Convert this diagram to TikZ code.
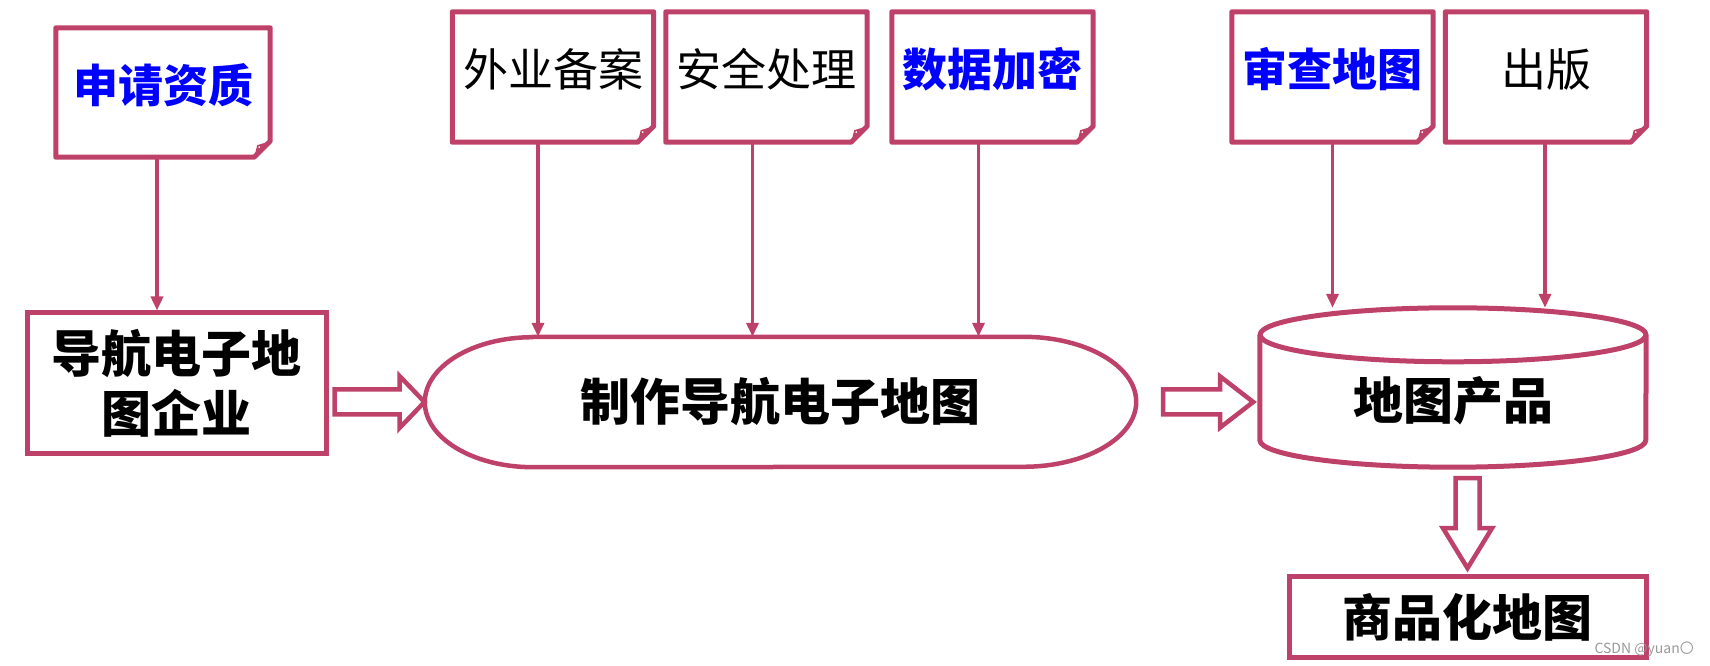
\documentclass[tikz,border=0pt]{standalone}
\usepackage{fontspec}
\newfontfamily\zh{Noto Sans CJK SC}
\usetikzlibrary{arrows.meta,calc}
\definecolor{rose}{RGB}{190,65,106}
\definecolor{zhblue}{RGB}{0,0,255}

\tikzset{
  docbox/.style={minimum width=201pt, minimum height=130pt, inner sep=0pt,
    font=\zh\fontsize{45}{54}\selectfont, text height=27pt, text depth=7pt},
  bluetxt/.style={text=zhblue, font=\zh\bfseries\fontsize{45}{54}\selectfont},
  border/.style={draw=rose, line width=5pt, line join=round},
  conn/.style={draw=rose, line width=3.5pt, ->},
  fat/.style={draw=rose, line width=4.5pt, fill=white, line join=miter},
  bigtxt/.style={font=\zh\bfseries\fontsize{50}{60}\selectfont, inner sep=0pt},
  plainbox/.style={bigtxt, draw=rose, line width=5pt},
  wm/.style={font=\zh\fontsize{14}{16}\selectfont, text=black!40, inner sep=0pt}
}

\begin{document}
\begin{tikzpicture}[x=1pt, y=1pt, >={Triangle[length=14pt,width=12pt]}]
  \useasboundingbox (0,0) rectangle (1710,666);
  % documents
  \node[docbox, minimum width=214pt, minimum height=129pt, bluetxt] (sqzz) at (163,573.5) {申请资质};
  \node[docbox] (wyba) at (553,589) {外业备案};
  \node[docbox] (aqcl) at (766.5,589) {安全处理};
  \node[docbox, bluetxt] (sjjm) at (992.5,589) {数据加密};
  \node[docbox, bluetxt] (scdt) at (1332.5,589) {审查地图};
  \node[docbox] (cb) at (1546,589) {出版};
  \foreach \n in {sqzz,wyba,aqcl,sjjm,scdt,cb} {
    \draw[border] (\n.north west) -- (\n.north east) -- ([yshift=16pt]\n.south east)
      -- ([xshift=-16pt]\n.south east) -- (\n.south west) -- cycle;
    \fill[rose] ([yshift=16pt]\n.south east) -- ([xshift=-13pt,yshift=12pt]\n.south east)
      -- ([xshift=-16pt]\n.south east) -- cycle;
    \fill[white] ([xshift=-11pt,yshift=10pt]\n.south east) circle (1pt);
  }

  % boxes
  \node[plainbox, minimum width=299pt, minimum height=141pt, align=center] (qiye) at (176.5,282.5) {导航电子地\\图企业};
  \node[bigtxt, minimum width=711pt, minimum height=130pt] (zz) at (780.5,264) {制作导航电子地图};
  \draw[border, line width=4.5pt] ([xshift=108pt]zz.north west) -- ([xshift=-113pt]zz.north east)
    arc[start angle=90, end angle=-90, x radius=113, y radius=65] -- ([xshift=108pt]zz.south west)
    arc[start angle=270, end angle=90, x radius=108, y radius=65] -- cycle;

  % cylinder
  \node[minimum width=386pt, minimum height=159pt, inner sep=0pt] (cyl) at (1453,278.5) {};
  \draw[border] ([yshift=-27pt]cyl.north west) -- ([yshift=27pt]cyl.south west)
    arc[start angle=180, end angle=360, x radius=193, y radius=27] -- ([yshift=-27pt]cyl.north east);
  \draw[border] ([yshift=-27pt]cyl.north) ellipse [x radius=193, y radius=27];
  \node[bigtxt] (cyltxt) at ([yshift=-13.5pt]cyl.center) {地图产品};

  \node[plainbox, minimum width=357pt, minimum height=81pt] (sphdt) at (1467.5,48.5) {商品化地图};

  % arrows
  \foreach \n/\dx/\t in {sqzz/-6/qiye, wyba/-15/zz, aqcl/-14/zz, sjjm/-14/zz, scdt/0/cyl, cb/-1/cyl} {
    \coordinate (\n-o) at ([xshift=\dx pt]\n.south);
    \draw[conn] (\n-o) -- (\n-o |- \t.north);
  }

  % hollow arrows
  \draw[fat] ($(qiye.east |- zz.west)+(6,-12.5)$) -- ++(65,0) -- ++(0,-13.5) -- ++(25,26)
    -- ++(-25,26) -- ++(0,-13.5) -- ++(-65,0) -- cycle;
  \draw[fat] ($(zz.east)+(27,-12.5)$) -- ++(57,0) -- ++(0,-13) -- ++(33,25.5)
    -- ++(-33,25.5) -- ++(0,-13) -- ++(-57,0) -- cycle;
  \draw[fat] ($(sphdt.north |- cyl.south)+(-12,-11)$) -- ++(0,-50) -- ++(-12.5,0) -- ++(24.5,-40)
    -- ++(24.5,40) -- ++(-12.5,0) -- ++(0,50) -- cycle;

  \node[wm, anchor=east] (wmark) at (1694,17) {CSDN @yuan〇};
\end{tikzpicture}
\end{document}
